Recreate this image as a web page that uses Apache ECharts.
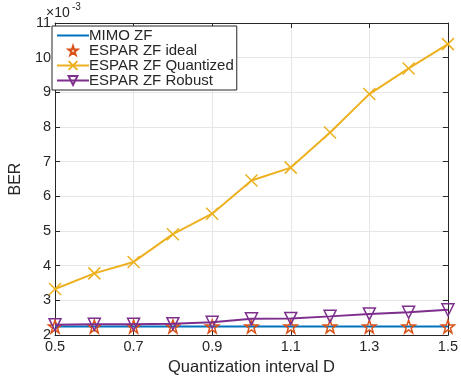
<!DOCTYPE html>
<html>
<head>
<meta charset="utf-8">
<script src="https://cdn.jsdelivr.net/npm/echarts@6/dist/echarts.min.js"></script>
<style>
  html, body { margin: 0; padding: 0; background: #fff; }
  #chart { width: 461px; height: 381px; }
</style>
</head>
<body>
<div id="chart"></div>
<script>
// quantization interval D
const dValues = [0.5, 0.6, 0.7, 0.8, 0.9, 1.0, 1.1, 1.2, 1.3, 1.4, 1.5];
// BER values, x1e-3
const mimoZF = [2.25, 2.25, 2.25, 2.25, 2.25, 2.25, 2.25, 2.25, 2.25, 2.25, 2.25];
const esparIdeal = [2.25, 2.25, 2.25, 2.25, 2.25, 2.25, 2.25, 2.25, 2.25, 2.25, 2.25];
const esparQuantized = [3.33, 3.78, 4.11, 4.91, 5.5, 6.46, 6.83, 7.84, 8.95, 9.69, 10.39];
const esparRobust = [2.3, 2.31, 2.31, 2.33, 2.37, 2.47, 2.48, 2.54, 2.61, 2.66, 2.73];
const seriesNames = ['MIMO ZF', 'ESPAR ZF ideal', 'ESPAR ZF Quantized', 'ESPAR ZF Robust'];

const starPath = 'path://M50,0 L61.8,35.1 L98.1,35.1 L68.8,56.7 L79.4,90.5 L50,69.8 L20.6,90.5 L31.2,56.7 L1.9,35.1 L38.2,35.1 Z';
const crossPath = 'path://M0,0 L10,10 M10,0 L0,10';

const pairs = arr => dValues.map((d, i) => [d, arr[i]]);

const font = 'Liberation Sans, Arial, Helvetica, sans-serif';
const ink = '#262626';
const chart = echarts.init(document.getElementById('chart'));

const option = {
  animation: false,
  textStyle: { fontFamily: font },
  grid: { left: 47, right: 9, top: 23, bottom: 40, containLabel: false },
  legend: {
    orient: 'vertical',
    left: 52,
    top: 26,
    padding: [2, 3, 2, 4],
    itemGap: 0,
    itemWidth: 32,
    itemHeight: 11,
    backgroundColor: '#fff',
    borderColor: ink,
    borderWidth: 1,
    borderRadius: 0,
    textStyle: { fontSize: 15, color: ink, padding: [0, 0, 0, -5] },
    data: [
      { name: seriesNames[0], itemStyle: { opacity: 0 } },
      seriesNames[1], seriesNames[2], seriesNames[3]
    ]
  },
  graphic: [{
    type: 'text',
    left: 46,
    top: 6,
    style: { text: '×10', font: '14px ' + font, fill: ink }
  }, {
    type: 'text',
    left: 72,
    top: 2,
    style: { text: '-3', font: '10px ' + font, fill: ink }
  }],
  xAxis: [{
    type: 'value',
    min: 0.5,
    max: 1.5,
    interval: 0.2,
    name: 'Quantization interval D',
    nameLocation: 'middle',
    nameGap: 20,
    nameTextStyle: { fontSize: 16.5, color: ink },
    axisLine: { onZero: false, lineStyle: { color: ink } },
    axisTick: { inside: true, length: 5, lineStyle: { color: ink } },
    axisLabel: { fontSize: 14.5, color: ink, margin: 4, formatter: v => v.toFixed(1) },
    splitLine: { show: true, lineStyle: { color: '#e6e6e6' } }
  }, {
    type: 'value',
    position: 'top',
    min: 0.5,
    max: 1.5,
    interval: 0.2,
    axisLine: { onZero: false, lineStyle: { color: ink } },
    axisTick: { inside: true, length: 5, lineStyle: { color: ink } },
    axisLabel: { show: false },
    splitLine: { show: false }
  }],
  yAxis: [{
    type: 'value',
    min: 2,
    max: 11,
    interval: 1,
    name: 'BER',
    nameLocation: 'middle',
    nameGap: 26,
    nameTextStyle: { fontSize: 16, color: ink },
    axisLine: { show: true, onZero: false, lineStyle: { color: ink } },
    axisTick: { show: true, inside: true, length: 5, lineStyle: { color: ink } },
    axisLabel: { fontSize: 14.5, color: ink, margin: 4 },
    splitLine: { show: true, lineStyle: { color: '#e6e6e6' } }
  }, {
    type: 'value',
    position: 'right',
    min: 2,
    max: 11,
    interval: 1,
    axisLine: { show: true, onZero: false, lineStyle: { color: ink } },
    axisTick: { show: true, inside: true, length: 5, lineStyle: { color: ink } },
    axisLabel: { show: false },
    splitLine: { show: false }
  }],
  series: [{
    name: seriesNames[0],
    type: 'line',
    data: pairs(mimoZF),
    showSymbol: false,
    symbol: 'none',
    color: '#0072BD',
    lineStyle: { width: 2, color: '#0072BD' },
    z: 2
  }, {
    name: seriesNames[1],
    type: 'line',
    data: pairs(esparIdeal),
    symbol: starPath,
    symbolSize: 13,
    color: '#D95319',
    itemStyle: { color: 'rgba(0,0,0,0)', borderColor: '#D95319', borderWidth: 1.5 },
    lineStyle: { width: 0, opacity: 0 },
    z: 3
  }, {
    name: seriesNames[2],
    type: 'line',
    data: pairs(esparQuantized),
    symbol: crossPath,
    symbolSize: 12,
    color: '#EDB120',
    itemStyle: { color: 'rgba(0,0,0,0)', borderColor: '#EDB120', borderWidth: 1.5 },
    lineStyle: { width: 2, color: '#EDB120' },
    z: 4
  }, {
    name: seriesNames[3],
    type: 'line',
    data: pairs(esparRobust),
    symbol: 'triangle',
    symbolRotate: 180,
    symbolSize: 12,
    color: '#7E2F8E',
    itemStyle: { color: 'rgba(0,0,0,0)', borderColor: '#7E2F8E', borderWidth: 1.5 },
    lineStyle: { width: 2, color: '#7E2F8E' },
    z: 5
  }]
};

chart.setOption(option);
</script>
</body>
</html>
